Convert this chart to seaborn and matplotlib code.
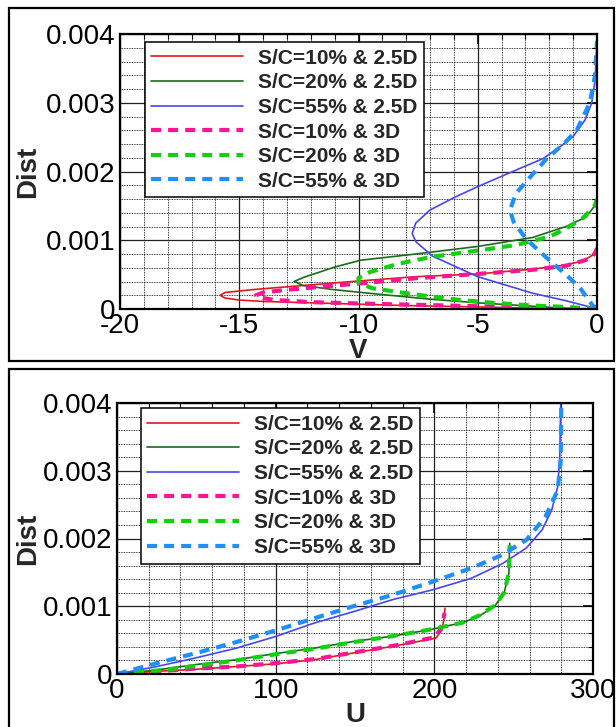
#!/usr/bin/env python3
"""
Boundary layer profiles (V and U vs wall distance), 2.5D vs 3D at three S/C stations
"""

import numpy as np
import pandas as pd
import matplotlib
matplotlib.use('Agg')
import matplotlib.pyplot as plt
import seaborn as sns
from matplotlib.patches import Rectangle
from matplotlib.ticker import MultipleLocator, FuncFormatter

sns.set_style("white")
plt.rcParams['font.family'] = ['Liberation Sans', 'DejaVu Sans']
plt.rcParams['axes.unicode_minus'] = False

labels = ['S/C=10% & 2.5D', 'S/C=20% & 2.5D', 'S/C=55% & 2.5D',
          'S/C=10% & 3D', 'S/C=20% & 3D', 'S/C=55% & 3D']

# ---- top panel: V profiles (read along each curve from the wall) ----
v_10_25 = [0, -2.5, -5, -8, -10, -12, -14, -15, -15.6, -15.8,
           -15.6, -14.5, -12.4, -9.9, -7.6, -5.0, -2.7, -1.3, -0.6, -0.15, -0.03, 0]
d_v_10_25 = [0, 0.00001, 0.00003, 0.00005, 0.00007, 0.00009, 0.00011, 0.00013, 0.00016, 0.0002,
             0.00024, 0.00028, 0.00034, 0.00041, 0.00047, 0.00051, 0.00058, 0.00064, 0.0007, 0.00079, 0.00087, 0.00095]

v_20_25 = [0, -1.3, -2.7, -5, -6.9, -9, -11, -12.3, -12.7,
           -12.3, -11, -9.9, -7.6, -5, -2.7, -1.3, -0.45, -0.1, 0]
d_v_20_25 = [0, 0.00001, 0.00004, 0.00009, 0.00014, 0.00021, 0.00028, 0.00034, 0.0004,
             0.00046, 0.00061, 0.00071, 0.0008, 0.00091, 0.00104, 0.0012, 0.00134, 0.0015, 0.0016]

v_55_25 = [0, -0.3, -1.3, -2.7, -5, -6.9, -7.6, -7.75, -7.6, -7.0, -6.0, -5.0,
           -3.4, -2.25, -1.55, -1.0, -0.5, -0.22, -0.08, 0]
d_v_55_25 = [0, 0.00003, 0.00012, 0.00023, 0.00047, 0.00077, 0.00098, 0.0011, 0.00125, 0.00144, 0.00162, 0.00178,
             0.00202, 0.00219, 0.00236, 0.00251, 0.00275, 0.003, 0.00333, 0.0039]

v_10_3 = [0, -2.5, -5, -7.5, -10, -12, -13.5, -14.2, -14.3,
          -14.0, -13, -12, -10, -7.5, -5, -2.7, -1.3, -0.5, -0.1, 0]
d_v_10_3 = [0, 0.00002, 0.00004, 0.00006, 0.00008, 0.0001, 0.00013, 0.00017, 0.0002,
            0.00024, 0.00028, 0.00031, 0.00037, 0.00045, 0.00051, 0.00057, 0.00063, 0.00071, 0.0008, 0.00088]

v_20_3 = [0, -1.3, -2.7, -4.4, -6.3, -8, -9.4, -10, -10,
          -9.5, -8.3, -6.9, -4.8, -3.4, -2, -1.3, -0.6, -0.1, 0]
d_v_20_3 = [0, 0.00003, 0.00005, 0.00009, 0.00015, 0.00023, 0.0003, 0.00038, 0.00045,
            0.00054, 0.00066, 0.00076, 0.00086, 0.00093, 0.00105, 0.00117, 0.00132, 0.0015, 0.0016]

v_55_3 = [0, -0.2, -0.7, -1.3, -2.0, -2.6, -3.0, -3.5, -3.65, -3.4, -2.8,
          -2.1, -1.4, -0.85, -0.3, -0.08, 0]
d_v_55_3 = [0, 0.00006, 0.0003, 0.0005, 0.00071, 0.0009, 0.00103, 0.00127, 0.00144, 0.00168, 0.00192,
            0.00219, 0.0024, 0.0026, 0.003, 0.0034, 0.0039]

# ---- bottom panel: U profiles ----
u_10_25 = [0, 25, 50, 75, 99.5, 124, 149, 174, 201, 204.7, 206, 206.7]
d_u_10_25 = [0, 0.00004, 0.00007, 0.00011, 0.00015, 0.00021, 0.00031, 0.00041, 0.00053, 0.00065, 0.0008, 0.00097]

u_20_25 = [0, 25, 50, 75, 99.5, 124, 149, 174, 198.5, 218, 228, 238, 244, 247, 247.5]
d_u_20_25 = [0, 0.00006, 0.00014, 0.00021, 0.0003, 0.00038, 0.00048, 0.00056, 0.00066, 0.00076,
             0.00085, 0.001, 0.0012, 0.00149, 0.00193]

u_55_25 = [0, 25, 50, 75, 99.5, 124, 149, 174, 198.5, 223, 243, 258, 268, 274, 277.7, 279, 279.7]
d_u_55_25 = [0, 0.00011, 0.00024, 0.00038, 0.00055, 0.00075, 0.00092, 0.0011, 0.00124, 0.00141,
             0.00163, 0.00186, 0.00213, 0.00242, 0.00276, 0.00316, 0.004]

u_10_3 = [0, 25, 50, 75, 100, 125, 150, 175, 200, 204, 205.5, 206.5]
d_u_10_3 = [0, 0.00004, 0.00008, 0.00011, 0.00016, 0.00022, 0.00032, 0.00042, 0.00054, 0.00066, 0.0008, 0.0009]

u_20_3 = [0, 25, 50, 75, 99.5, 124, 149, 174, 198.5, 218, 228, 238, 244, 247, 247.5]
d_u_20_3 = [0, 0.00005, 0.00012, 0.0002, 0.00029, 0.00037, 0.00047, 0.00056, 0.00066, 0.00076,
            0.00086, 0.00101, 0.0012, 0.0015, 0.0019]

u_55_3 = [0, 25, 50, 75, 99.5, 124, 149, 174, 198.5, 223, 243, 258, 270, 277.7, 279.7, 280]
d_u_55_3 = [0, 0.00016, 0.00031, 0.00047, 0.00064, 0.00082, 0.001, 0.00117, 0.00136, 0.00156,
            0.00176, 0.00198, 0.00232, 0.00271, 0.00316, 0.004]

colors = ['#e41a1a', '#1b6b1b', '#4646f5', '#ff1493', '#10d010', '#1e8fff']
solid_lw = 1.2
dash_lw = 3.0
dash_style = (0, (2.4, 1.7))


def style_axes(ax, xlim, xmajor, xminor, xlabel, label_x, label_y):
    ax.set_xlim(*xlim)
    ax.set_ylim(0, 0.004)
    ax.xaxis.set_major_locator(MultipleLocator(xmajor))
    ax.xaxis.set_minor_locator(MultipleLocator(xminor))
    ax.yaxis.set_major_locator(MultipleLocator(0.001))
    ax.yaxis.set_minor_locator(MultipleLocator(0.0002))
    ax.yaxis.set_major_formatter(FuncFormatter(lambda v, p: '0' if abs(v) < 1e-9 else f'{v:.3f}'))
    ax.xaxis.set_major_formatter(FuncFormatter(lambda v, p: f'{v:g}'))

    ax.grid(which='major', color='#222222', linewidth=0.9, linestyle='-')
    ax.grid(which='minor', color='black', linewidth=0.6, linestyle=(0, (1, 1)))
    ax.set_axisbelow(True)

    ax.tick_params(which='both', direction='in', top=True, right=True,
                   labelsize=20, colors='black', pad=3)
    ax.tick_params(which='major', length=7, width=1.2)
    ax.tick_params(which='minor', length=3.5, width=0.8)
    for sp in ax.spines.values():
        sp.set_visible(True)
        sp.set_color('black')
        sp.set_linewidth(1.6)

    ax.set_xlabel(xlabel, fontsize=20, fontweight='bold')
    ax.set_ylabel('Dist', fontsize=20, fontweight='bold')
    ax.xaxis.set_label_coords(0.5, label_x)
    ax.yaxis.set_label_coords(label_y, 0.5)


def draw_panel(ax, series, anchor):
    for i, (x, y) in enumerate(series):
        df = pd.DataFrame({'x': x, 'y': y})
        if i < 3:
            sns.lineplot(data=df, x='x', y='y', sort=False, estimator=None, orient='y',
                         color=colors[i], linewidth=solid_lw, label=labels[i], ax=ax)
        else:
            sns.lineplot(data=df, x='x', y='y', sort=False, estimator=None, orient='y',
                         color=colors[i], linewidth=dash_lw, linestyle=dash_style,
                         label=labels[i], ax=ax)
    leg = ax.legend(loc='upper left', bbox_to_anchor=anchor, borderaxespad=0,
                    prop={'size': 15, 'weight': 'bold'}, frameon=True, fancybox=False,
                    framealpha=1, edgecolor='black', handlelength=4.4, handletextpad=0.7,
                    labelspacing=0.27, borderpad=0.32)
    leg.get_frame().set_linewidth(1.1)


fig = plt.figure(figsize=(6.16, 7.27), dpi=100)

ax1 = fig.add_axes([120 / 616, 1 - 309 / 727, 477 / 616, 275 / 727])
draw_panel(ax1, [(v_10_25, d_v_10_25), (v_20_25, d_v_20_25), (v_55_25, d_v_55_25),
                 (v_10_3, d_v_10_3), (v_20_3, d_v_20_3), (v_55_3, d_v_55_3)],
           (0.052, 0.971))
style_axes(ax1, (-20, 0), 5, 1, 'V', -0.105, -0.165)

ax2 = fig.add_axes([117 / 616, 1 - 674 / 727, 476 / 616, 271 / 727])
draw_panel(ax2, [(u_10_25, d_u_10_25), (u_20_25, d_u_20_25), (u_55_25, d_u_55_25),
                 (u_10_3, d_u_10_3), (u_20_3, d_u_20_3), (u_55_3, d_u_55_3)],
           (0.050, 0.981))
style_axes(ax2, (0, 300), 100, 20, 'U', -0.104, -0.16)

# panel frames
fig.add_artist(Rectangle((9 / 616, 1 - 361 / 727), 605 / 616, 353 / 727, transform=fig.transFigure,
                         fill=False, edgecolor='black', linewidth=1.6))
fig.add_artist(Rectangle((9 / 616, -0.01), 605 / 616, 1 - 369 / 727 + 0.01, transform=fig.transFigure,
                         fill=False, edgecolor='black', linewidth=1.6))

fig.savefig('out.png', dpi=100)
print("saved out.png")
